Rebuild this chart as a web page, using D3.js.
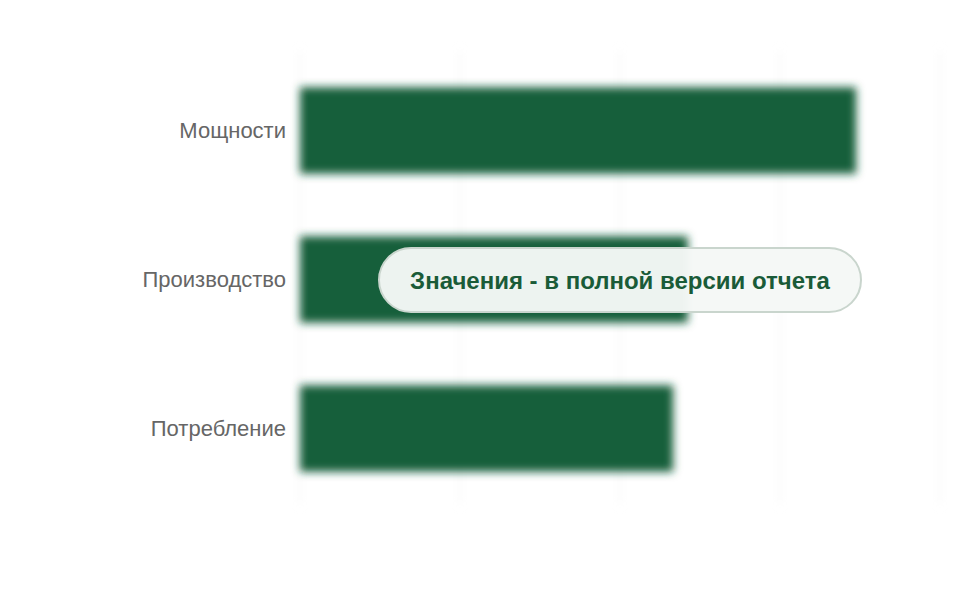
<!DOCTYPE html>
<meta charset="utf-8">
<style>
    body { margin: 0; background: #fff; }
</style>
<svg width="960" height="600"></svg>
<script src="https://cdn.jsdelivr.net/npm/d3@7"></script>
<script>

    var categories = ["Мощности", "Производство", "Потребление"];
    var values = [86.9, 60.6, 58.3];
    var gridTicks = [0, 25, 50, 75, 100];
    var noteText = "Значения - в полной версии отчета";

    var svg = d3.select("svg"),
        margin = {top: 56, right: 20, bottom: 97, left: 300},
        width = +svg.attr("width") - margin.left - margin.right,
        height = +svg.attr("height") - margin.top - margin.bottom;

    var defs = svg.append("defs");
    defs.append("filter").attr("id", "blur")
        .attr("filterUnits", "userSpaceOnUse")
        .attr("x", -40).attr("y", -40).attr("width", 720).attr("height", 540)
        .append("feGaussianBlur").attr("stdDeviation", 4);

    var x = d3.scaleLinear().domain([0, 100]).range([0, 640]);
    var y = d3.scaleBand().domain(categories).range([0, height])
        .paddingInner(0.42).paddingOuter(0.21);

    var g = svg.append("g").attr("transform", "translate(" + margin.left + "," + margin.top + ")");

    // blurred grid
    g.append("g").attr("filter", "url(#blur)")
        .selectAll(".grid")
        .data(gridTicks)
        .enter().append("line")
        .attr("class", "grid")
        .attr("x1", function(d) { return x(d); })
        .attr("x2", function(d) { return x(d); })
        .attr("y1", -6)
        .attr("y2", height + 2)
        .attr("stroke", "#f0f0f0")
        .attr("stroke-width", 1.5);

    // blurred bars
    g.append("g").attr("filter", "url(#blur)")
        .selectAll(".bar")
        .data(values)
        .enter().append("rect")
        .attr("class", "bar")
        .attr("x", x(0))
        .attr("y", function(d, i) { return y(categories[i]); })
        .attr("width", function(d) { return x(d) - x(0); })
        .attr("height", y.bandwidth())
        .attr("fill", "#165e3a");

    var yAxis = g.append("g")
        .call(d3.axisLeft(y).tickSize(0).tickPadding(14));
    yAxis.select(".domain").remove();
    yAxis.selectAll("text")
        .attr("font-family", "'Liberation Sans', Arial, sans-serif")
        .attr("font-size", 22)
        .attr("fill", "#666");

    // overlay note
    var note = svg.append("g").attr("class", "note")
        .attr("transform", "translate(620,280)");

    note.append("rect")
        .attr("x", -241).attr("y", -32)
        .attr("width", 482).attr("height", 64)
        .attr("rx", 32).attr("ry", 32)
        .attr("fill", "rgba(245,248,246,0.97)")
        .attr("stroke", "#c9d5cd")
        .attr("stroke-width", 2);

    note.append("text")
        .attr("text-anchor", "middle")
        .attr("dy", "0.36em")
        .attr("font-family", "'Liberation Sans', Arial, sans-serif")
        .attr("font-weight", "bold")
        .attr("font-size", 24)
        .attr("fill", "#1a5b38")
        .text(noteText);

</script>
